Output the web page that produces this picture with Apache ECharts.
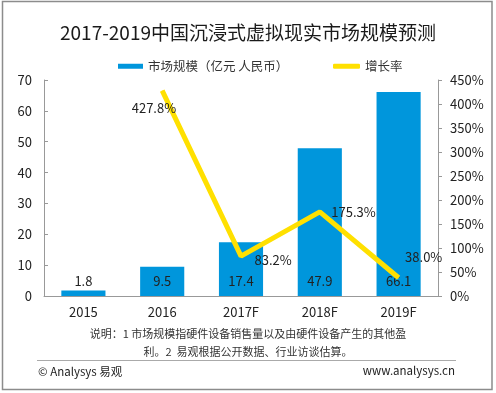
<!DOCTYPE html>
<html><head><meta charset="utf-8">
<script src="https://cdn.jsdelivr.net/npm/echarts@6/dist/echarts.min.js"></script>
<style>html,body{margin:0;padding:0;background:#fff}#c{width:496px;height:393px}</style>
</head><body><div id="c"></div>
<script>
var categories = ['2015', '2016', '2017F', '2018F', '2019F'];
var marketSize = [1.8, 9.5, 17.4, 47.9, 66.1];
var growthRate = [null, 427.8, 83.2, 175.3, 38.0];
var leftTicks = [0, 10, 20, 30, 40, 50, 60, 70];
var rightTicks = [0, 50, 100, 150, 200, 250, 300, 350, 400, 450];
var titleText = '2017-2019中国沉浸式虚拟现实市场规模预测';
var noteLine1 = '说明：1 市场规模指硬件设备销售量以及由硬件设备产生的其他盈';
var noteLine2 = '利。2  易观根据公开数据、行业访谈估算。';
var sourceLeft = '© Analysys 易观';
var sourceRight = 'www.analysys.cn';

var FONT = '"Noto Sans CJK SC", "Noto Sans", sans-serif';
var labelOffsets = [null, [-36, 17], [8, 4], [6, 0], [1, -21]];

var chart = echarts.init(document.getElementById('c'), null, {renderer: 'canvas'});
chart.setOption({
  animation: false,
  textStyle: {fontFamily: FONT},
  title: {
    text: titleText, left: 'center', top: 18,
    textStyle: {fontFamily: FONT, fontSize: 19, fontWeight: 'normal', color: '#1a1a1a'}
  },
  legend: [
    {
      top: 55, left: 113,
      textStyle: {fontFamily: FONT, fontSize: 12.5, color: '#333'},
      data: [{name: '市场规模（亿元 人民币）', icon: 'rect', itemStyle: {color: '#0096DC'}}],
      itemWidth: 25, itemHeight: 5
    },
    {
      top: 55, left: 328,
      textStyle: {fontFamily: FONT, fontSize: 12.5, color: '#333'},
      data: [{name: '增长率', icon: 'roundRect', itemStyle: {color: '#FFE000'}}],
      itemWidth: 27, itemHeight: 5
    }
  ],
  grid: {left: 44, right: 58, top: 80, bottom: 97},
  xAxis: {
    type: 'category', data: categories,
    axisLine: {lineStyle: {color: '#999'}},
    axisTick: {show: false},
    axisLabel: {color: '#222', fontSize: 13, margin: 10, fontFamily: FONT}
  },
  yAxis: [
    {
      type: 'value', min: 0, max: 70, interval: 10,
      axisLine: {show: true, lineStyle: {color: '#999'}},
      axisTick: {show: true, inside: true, length: 4, lineStyle: {color: '#999'}},
      splitLine: {show: false},
      axisLabel: {color: '#222', fontSize: 13, margin: 12, fontFamily: FONT,
        formatter: function (v) { return leftTicks.indexOf(v) >= 0 ? String(v) : ''; }}
    },
    {
      type: 'value', min: 0, max: 450, interval: 50, position: 'right',
      axisLine: {show: true, lineStyle: {color: '#999'}},
      axisTick: {show: true, inside: false, length: 4, lineStyle: {color: '#999'}},
      splitLine: {show: false},
      axisLabel: {color: '#222', fontSize: 13, margin: 12, fontFamily: FONT,
        formatter: function (v) { return rightTicks.indexOf(v) >= 0 ? v + '%' : ''; }}
    }
  ],
  series: [
    {
      name: '市场规模（亿元 人民币）', type: 'bar', data: marketSize, barWidth: '56%',
      itemStyle: {color: '#0096DC'},
      label: {show: true, position: 'insideBottom', distance: 8, color: '#222', fontSize: 13, fontFamily: FONT}
    },
    {
      name: '增长率', type: 'line', yAxisIndex: 1,
      data: growthRate.map(function (v, i) {
        return v == null ? null : {value: v, label: {offset: labelOffsets[i]}};
      }),
      symbol: 'circle', symbolSize: 1, showSymbol: true, connectNulls: false,
      lineStyle: {color: '#FFE000', width: 5},
      itemStyle: {color: '#FFE000'},
      label: {show: true, position: 'right', distance: 5, color: '#222', fontSize: 13, fontFamily: FONT,
        formatter: function (p) { return p.value.toFixed(1) + '%'; }}
    }
  ],
  graphic: [
    {type: 'rect', shape: {x: 2.5, y: 1.5, width: 489.5, height: 388}, style: {fill: 'none', stroke: '#8c8c8c', lineWidth: 1.5}, silent: true},
    {type: 'text', x: 248, y: 334, style: {text: noteLine1, fontFamily: FONT, fontSize: 11, fill: '#333', align: 'center', verticalAlign: 'middle'}},
    {type: 'text', x: 248, y: 352, style: {text: noteLine2, fontFamily: FONT, fontSize: 11, fill: '#333', align: 'center', verticalAlign: 'middle'}},
    {type: 'line', shape: {x1: 37, y1: 360.5, x2: 456, y2: 360.5}, style: {stroke: '#aaa', lineWidth: 1}},
    {type: 'text', x: 38, y: 372, style: {text: sourceLeft, fontFamily: FONT, fontSize: 11.5, fill: '#222', align: 'left', verticalAlign: 'middle'}},
    {type: 'text', x: 455, y: 371, style: {text: sourceRight, fontFamily: FONT, fontSize: 11.5, fill: '#222', align: 'right', verticalAlign: 'middle'}}
  ]
});
</script></body></html>
